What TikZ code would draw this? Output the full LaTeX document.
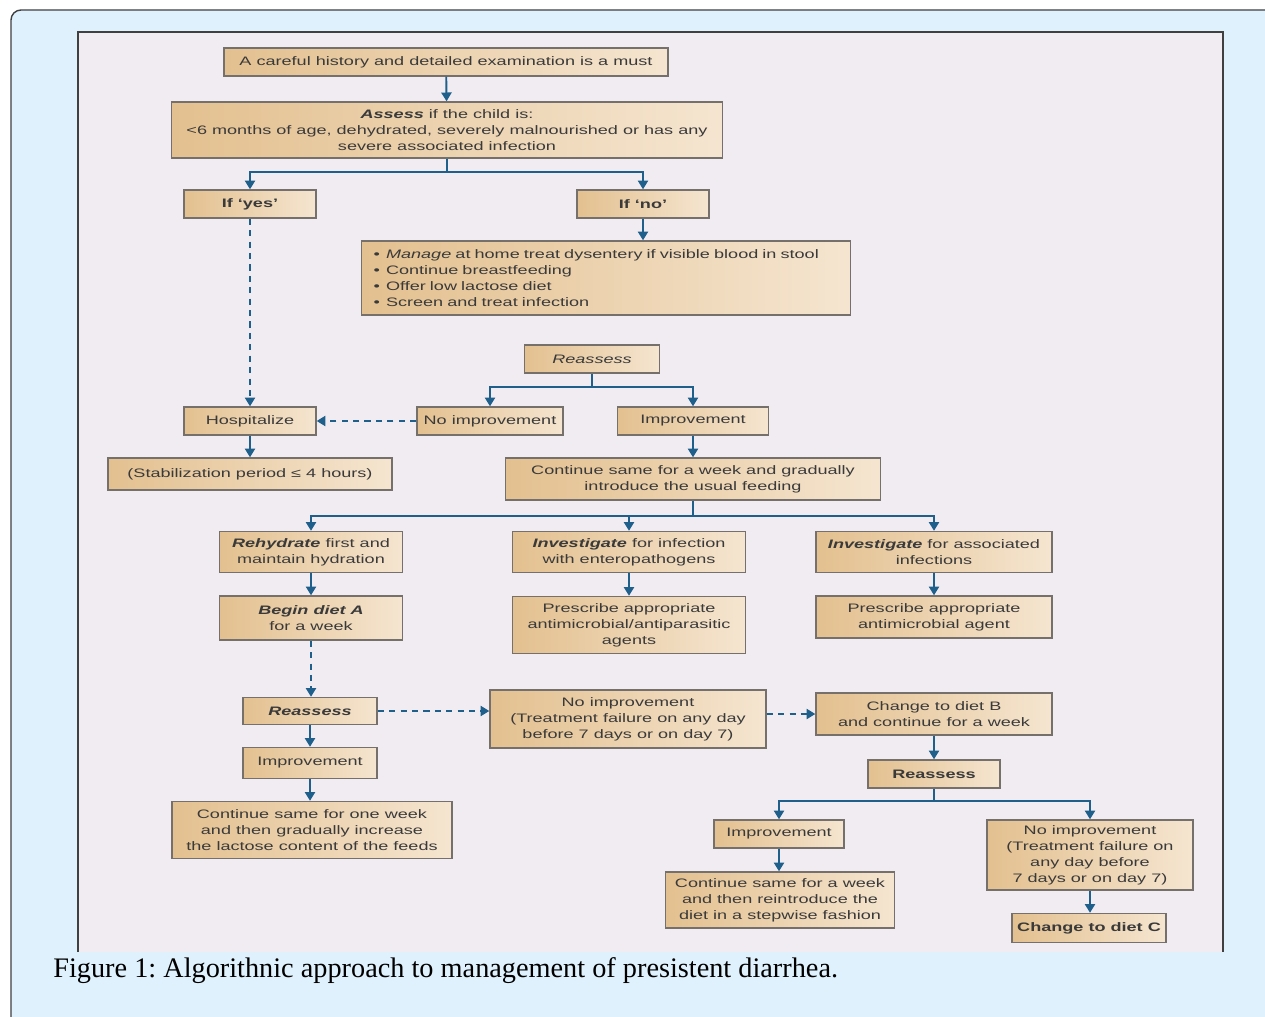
\documentclass[tikz,border=0pt]{standalone}
\usepackage{fontspec}
\setmainfont{Liberation Serif}
\newfontfamily\boxfont{Liberation Sans}[FakeStretch=1.47]
\usetikzlibrary{arrows.meta}
\definecolor{frameblue}{HTML}{DFF1FC}
\definecolor{panel}{HTML}{F1ECF1}
\definecolor{tanL}{HTML}{E3C08F}
\definecolor{tanR}{HTML}{F5E5D0}
\definecolor{edge}{HTML}{75706B}
\definecolor{flowblue}{HTML}{1E5F8C}
\definecolor{ink}{HTML}{3A3A3A}

\begin{document}
\begin{tikzpicture}[x=0.02cm, y=-0.02cm,
  box/.style={draw=edge, line width=0.8pt, left color=tanL, right color=tanR, text=ink, font=\boxfont\fontsize{7}{9.1}\selectfont, align=center, inner sep=1pt},
  sz/.style 2 args={minimum width=#1*0.02cm, minimum height=#2*0.02cm},
  flow/.style={draw=flowblue, line width=1.1pt, -{Triangle[length=5pt,width=5.8pt]}},
  dflow/.style={flow, dash pattern=on 3.5pt off 3pt}]
  \useasboundingbox (0,0) rectangle (1265,1017);
  \clip (0,0) rectangle (1265,1017);
  \fill[white] (0,0) rectangle (1265,1017);
  \draw[black!75, line width=0.8pt, fill=frameblue, rounded corners=0.2cm] (11,10) rectangle (1300,1060);
  % panel behind the chart
  \fill[panel] (78,32) rectangle (1223,952);
  \draw[black!75, line width=1.2pt] (78,952) -- (78,32) -- (1223,32) -- (1223,952);

  \node[box, sz={444}{28}] (history) at (446,62) {A careful history and detailed examination is a must};
  \node[box, sz={551}{56}] (assess) at (447,130) {\textbf{\textit{Assess}} if the child is:\\<6 months of age, dehydrated, severely malnourished or has any\\severe associated infection};
  \node[box, sz={132}{28}] (yes) at (250,204) {\textbf{If ‘yes’}};
  \node[box, sz={132}{28}] (no) at (643,204) {\textbf{If ‘no’}};
  \node[box, sz={489}{74}, align=left, text width=9.3cm] (manage) at (606,278) {•\enspace\textit{Manage} at home treat dysentery if visible blood in stool\\•\enspace Continue breastfeeding\\•\enspace Offer low lactose diet\\•\enspace Screen and treat infection};

  \node[box, sz={135}{28}] (reassA) at (592,359) {\textit{Reassess}};
  \node[box, sz={146}{28}] (noimpA) at (490,421) {No improvement};
  \node[box, sz={151}{28}] (impA) at (693,421) {Improvement};
  \node[box, sz={132}{28}] (hosp) at (250,421) {Hospitalize};
  \node[box, sz={284}{32}] (stab) at (250,474) {(Stabilization period ≤ 4 hours)};
  \node[box, sz={375}{42}] (contA) at (693,479) {Continue same for a week and gradually\\introduce the usual feeding};

  \node[box, sz={183}{41}] (rehyd) at (311,552) {\textbf{\textit{Rehydrate}} first and\\maintain hydration};
  \node[box, sz={233}{41}] (invEnt) at (629,552) {\textbf{\textit{Investigate}} for infection\\with enteropathogens};
  \node[box, sz={236}{41}] (invAssoc) at (934,552) {\textbf{\textit{Investigate}} for associated\\infections};
  \node[box, sz={183}{44}] (dietA) at (311,618) {\textbf{\textit{Begin diet A}}\\for a week};
  \node[box, sz={233}{57}] (presEnt) at (629,625) {Prescribe appropriate\\antimicrobial/antiparasitic\\agents};
  \node[box, sz={236}{42}] (presAssoc) at (934,617) {Prescribe appropriate\\antimicrobial agent};

  \node[box, sz={134}{27}] (reassB) at (310,711) {\textbf{\textit{Reassess}}};
  \node[box, sz={276}{58}] (noimpB) at (628,719) {No improvement\\(Treatment failure on any day\\before 7 days or on day 7)};
  \node[box, sz={236}{42}] (dietB) at (934,714) {Change to diet B\\and continue for a week};
  \node[box, sz={134}{31}] (impB) at (310,763) {Improvement};
  \node[box, sz={280}{57}] (contB) at (312,830) {Continue same for one week\\and then gradually increase\\the lactose content of the feeds};
  \node[box, sz={132}{28}] (reassC) at (934,774) {\textbf{Reassess}};
  \node[box, sz={130}{28}] (impC) at (779,834) {Improvement};
  \node[box, sz={206}{70}] (noimpC) at (1090,855) {No improvement\\(Treatment failure on\\any day before\\7 days or on day 7)};
  \node[box, sz={229}{56}] (contC) at (780,900) {Continue same for a week\\and then reintroduce the\\diet in a stepwise fashion};
  \node[box, sz={154}{29}] (dietC) at (1089,928) {\textbf{Change to diet C}};

  \node[anchor=base west, inner sep=0pt, font=\fontsize{16.1}{19}\selectfont] (caption) at (53,977) {\frenchspacing Figure 1: Algorithnic approach to management of presistent diarrhea.};

  % connectors
  \draw[flow] (history) -- (assess);
  \draw[flow] (assess.south) -- ++(0,13) coordinate (ja) -| (yes);
  \draw[flow] (ja) -| (no);
  \draw[flow] (no.south) -- (no.south |- manage.north);
  \draw[dflow] (yes) -- (hosp);
  \draw[flow] (reassA.south) -- ++(0,13) coordinate (jb) -| (noimpA);
  \draw[flow] (jb) -| (impA);
  \draw[dflow] (noimpA) -- (hosp);
  \draw[flow] (hosp) -- (stab);
  \draw[flow] (impA) -- (contA);
  \draw[flow] (contA.south) -- ++(0,15) coordinate (jc) -| (rehyd);
  \draw[flow] (jc) -| (invEnt);
  \draw[flow] (jc) -| (invAssoc);
  \draw[flow] (rehyd) -- (dietA);
  \draw[flow] (invEnt) -- (presEnt);
  \draw[flow] (invAssoc) -- (presAssoc);
  \draw[dflow] (dietA.south) -- (dietA.south |- reassB.north);
  \draw[dflow] (reassB.east) -- (reassB.east -| noimpB.west);
  \draw[dflow] (noimpB.east |- dietB.west) -- (dietB.west);
  \draw[flow] (dietB) -- (reassC);
  \draw[flow] (reassB) -- (impB);
  \draw[flow] (impB.south) -- (impB.south |- contB.north);
  \draw[flow] (reassC.south) -- ++(0,12) coordinate (jd) -| (impC);
  \draw[flow] (jd) -| (noimpC);
  \draw[flow] (impC.south) -- (impC.south |- contC.north);
  \draw[flow] (noimpC.south) -- (noimpC.south |- dietC.north);
\end{tikzpicture}
\end{document}
